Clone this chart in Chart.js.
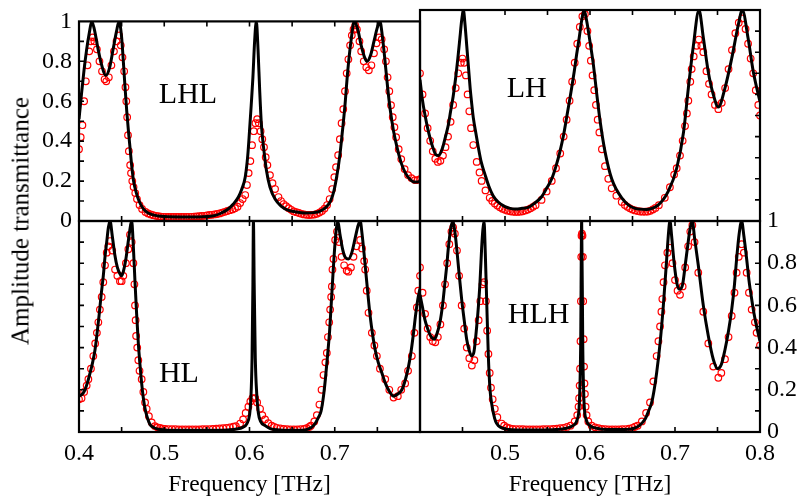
<!DOCTYPE html>
<html><head><meta charset="utf-8">
<script src="https://cdn.jsdelivr.net/npm/chart.js@4.4.0/dist/chart.umd.min.js"></script>
<style>
html,body{margin:0;padding:0;background:#fff;}
#wrap{position:relative;width:798px;height:502px;overflow:hidden;}
canvas{position:absolute;left:0;top:0;}
#ytitle{position:absolute;left:20px;top:221px;transform:translate(-50%,-50%) rotate(-90deg);font-family:'Liberation Serif',serif;font-size:25px;white-space:nowrap;color:#000;line-height:1;}
</style></head><body>
<div id="wrap">
<canvas id="cTL" width="798" height="502"></canvas>
<canvas id="cTR" width="798" height="502"></canvas>
<canvas id="cBL" width="798" height="502"></canvas>
<canvas id="cBR" width="798" height="502"></canvas>
<div id="ytitle">Amplitude transmittance</div>
</div>
<script>
// ---------- DATA (frequency in THz, amplitude transmittance) ----------
// Panel LHL (top-left)
const LHL_fLine = [0.400,0.403,0.406,0.409,0.412,0.415,0.418,0.422,0.426,0.4315,0.436,0.440,0.444,0.447,0.450,0.452,0.454,0.456,0.458,0.460,0.462,0.464,0.467,0.470,0.474,0.478,0.485,0.493,0.500,0.520,0.540,0.550,0.560,0.567,0.575,0.581,0.587,0.591,0.595,0.598,0.600,0.602,0.604,0.606,0.608,0.610,0.612,0.614,0.617,0.620,0.624,0.630,0.637,0.645,0.655,0.665,0.675,0.683,0.690,0.695,0.699,0.703,0.706,0.709,0.712,0.715,0.719,0.723,0.727,0.731,0.735,0.738,0.742,0.746,0.750,0.753,0.756,0.759,0.762,0.765,0.769,0.773,0.778,0.783,0.788,0.793,0.797,0.800];
const LHL_line  = [0.51,0.64,0.76,0.86,0.94,1.00,0.96,0.87,0.79,0.73,0.77,0.86,0.95,1.00,0.92,0.80,0.67,0.55,0.45,0.36,0.27,0.20,0.145,0.105,0.07,0.05,0.033,0.025,0.022,0.02,0.02,0.022,0.028,0.04,0.06,0.085,0.12,0.16,0.22,0.33,0.45,0.58,0.72,0.90,1.00,0.86,0.65,0.48,0.35,0.25,0.17,0.11,0.075,0.055,0.045,0.04,0.042,0.05,0.07,0.10,0.15,0.24,0.33,0.45,0.58,0.74,0.90,1.00,0.96,0.88,0.82,0.80,0.83,0.90,0.97,1.00,0.92,0.80,0.67,0.56,0.45,0.37,0.29,0.24,0.21,0.195,0.195,0.20];
const LHL_fMeas = [0.400,0.402,0.404,0.406,0.408,0.410,0.412,0.414,0.416,0.418,0.421,0.424,0.427,0.430,0.432,0.435,0.438,0.441,0.444,0.447,0.449,0.451,0.453,0.4545,0.4555,0.4565,0.4575,0.4585,0.460,0.461,0.4625,0.464,0.466,0.468,0.471,0.474,0.478,0.481,0.484,0.487,0.490,0.493,0.496,0.499,0.502,0.505,0.508,0.511,0.514,0.517,0.520,0.523,0.526,0.529,0.532,0.535,0.538,0.541,0.544,0.547,0.550,0.553,0.556,0.559,0.562,0.565,0.568,0.571,0.574,0.577,0.580,0.583,0.586,0.589,0.592,0.595,0.597,0.599,0.601,0.603,0.605,0.607,0.609,0.611,0.613,0.615,0.617,0.619,0.621,0.624,0.627,0.630,0.634,0.637,0.640,0.643,0.646,0.649,0.652,0.655,0.658,0.661,0.664,0.667,0.670,0.673,0.676,0.679,0.682,0.685,0.688,0.691,0.694,0.697,0.6995,0.7015,0.704,0.706,0.708,0.710,0.712,0.714,0.716,0.718,0.720,0.722,0.724,0.726,0.729,0.731,0.734,0.737,0.740,0.743,0.746,0.749,0.752,0.755,0.758,0.760,0.762,0.764,0.766,0.768,0.770,0.772,0.775,0.778,0.782,0.786,0.790,0.794,0.797,0.800];
const LHL_meas  = [0.36,0.42,0.48,0.60,0.70,0.78,0.85,0.90,0.92,0.90,0.86,0.80,0.75,0.71,0.70,0.72,0.78,0.85,0.90,0.93,0.88,0.82,0.75,0.67,0.60,0.52,0.43,0.35,0.28,0.24,0.20,0.17,0.14,0.11,0.08,0.06,0.045,0.038,0.033,0.029,0.026,0.024,0.022,0.021,0.02,0.02,0.02,0.02,0.02,0.02,0.02,0.02,0.02,0.021,0.021,0.022,0.023,0.024,0.025,0.026,0.028,0.03,0.031,0.033,0.035,0.038,0.042,0.046,0.05,0.054,0.058,0.064,0.072,0.09,0.11,0.13,0.18,0.24,0.30,0.38,0.45,0.49,0.51,0.49,0.45,0.41,0.37,0.32,0.28,0.23,0.19,0.16,0.12,0.10,0.085,0.074,0.064,0.056,0.048,0.044,0.04,0.036,0.033,0.031,0.03,0.031,0.032,0.036,0.042,0.05,0.062,0.08,0.11,0.16,0.22,0.27,0.33,0.41,0.49,0.56,0.65,0.74,0.81,0.88,0.93,0.96,0.98,0.96,0.90,0.85,0.80,0.77,0.755,0.78,0.84,0.89,0.92,0.91,0.86,0.80,0.72,0.65,0.58,0.52,0.47,0.42,0.36,0.31,0.26,0.23,0.215,0.205,0.205,0.21];

// Panel LH (top-right)
const LH_fLine = [0.400,0.403,0.406,0.409,0.412,0.415,0.4185,0.422,0.425,0.4275,0.430,0.4333,0.436,0.439,0.442,0.445,0.447,0.449,0.451,0.453,0.455,0.457,0.459,0.461,0.4627,0.466,0.4686,0.472,0.4765,0.481,0.486,0.492,0.500,0.506,0.512,0.520,0.5274,0.535,0.5431,0.549,0.555,0.560,0.5647,0.569,0.5725,0.5755,0.5784,0.5815,0.5843,0.587,0.5902,0.593,0.596,0.600,0.604,0.608,0.612,0.6176,0.6255,0.6373,0.653,0.6667,0.6804,0.692,0.702,0.710,0.7157,0.7216,0.7282,0.7333,0.739,0.745,0.751,0.7588,0.7667,0.7745,0.7792,0.786,0.792,0.800];
const LH_line  = [0.67,0.57,0.50,0.44,0.39,0.35,0.315,0.31,0.33,0.36,0.40,0.455,0.52,0.59,0.68,0.79,0.87,0.95,1.00,0.93,0.83,0.73,0.63,0.55,0.49,0.41,0.35,0.28,0.22,0.165,0.12,0.09,0.068,0.06,0.057,0.06,0.065,0.085,0.115,0.155,0.20,0.26,0.33,0.41,0.49,0.56,0.63,0.71,0.79,0.86,0.95,1.00,0.95,0.85,0.74,0.60,0.47,0.33,0.20,0.11,0.06,0.055,0.076,0.14,0.25,0.42,0.63,0.83,1.00,0.87,0.71,0.60,0.54,0.63,0.77,0.93,1.00,0.866,0.71,0.565];
const LH_fMeas = [0.400,0.403,0.406,0.409,0.412,0.415,0.418,0.421,0.424,0.427,0.430,0.433,0.436,0.439,0.442,0.445,0.448,0.450,0.452,0.454,0.456,0.458,0.460,0.4627,0.4667,0.470,0.4725,0.477,0.482,0.485,0.488,0.491,0.494,0.497,0.500,0.503,0.506,0.509,0.512,0.515,0.518,0.521,0.524,0.527,0.530,0.533,0.536,0.543,0.549,0.555,0.560,0.565,0.569,0.5725,0.576,0.579,0.582,0.585,0.588,0.591,0.594,0.597,0.599,0.601,0.603,0.605,0.607,0.609,0.611,0.614,0.6176,0.6215,0.6255,0.631,0.6373,0.641,0.644,0.647,0.650,0.653,0.656,0.659,0.662,0.665,0.668,0.671,0.674,0.677,0.681,0.688,0.694,0.699,0.702,0.7059,0.709,0.7118,0.714,0.7157,0.718,0.7196,0.722,0.7255,0.728,0.731,0.7333,0.737,0.740,0.743,0.747,0.751,0.755,0.759,0.763,0.767,0.771,0.775,0.779,0.783,0.786,0.789,0.792,0.795,0.798,0.800];
const LH_meas  = [0.70,0.60,0.51,0.44,0.38,0.33,0.295,0.28,0.285,0.31,0.35,0.40,0.47,0.55,0.63,0.70,0.75,0.77,0.75,0.69,0.60,0.52,0.44,0.36,0.28,0.23,0.19,0.145,0.11,0.095,0.083,0.073,0.065,0.058,0.053,0.049,0.046,0.044,0.043,0.043,0.044,0.046,0.05,0.054,0.06,0.067,0.075,0.10,0.14,0.19,0.25,0.32,0.40,0.48,0.57,0.66,0.75,0.84,0.92,0.97,0.98,0.90,0.83,0.76,0.69,0.62,0.55,0.48,0.42,0.34,0.26,0.20,0.155,0.12,0.09,0.076,0.067,0.06,0.054,0.05,0.047,0.045,0.044,0.044,0.045,0.048,0.055,0.062,0.075,0.11,0.16,0.22,0.25,0.31,0.38,0.45,0.51,0.57,0.66,0.72,0.78,0.83,0.86,0.83,0.80,0.71,0.65,0.60,0.55,0.53,0.56,0.63,0.72,0.81,0.89,0.94,0.96,0.91,0.84,0.77,0.70,0.62,0.55,0.50];

// Panel HL (bottom-left)
const HL_fLine = [0.400,0.404,0.407,0.410,0.413,0.416,0.4188,0.421,0.4235,0.426,0.4285,0.4305,0.4325,0.4345,0.4364,0.439,0.442,0.445,0.448,0.450,0.452,0.455,0.458,0.4605,0.4618,0.4635,0.4657,0.4676,0.4696,0.4715,0.4735,0.4755,0.4775,0.480,0.4833,0.487,0.493,0.500,0.520,0.540,0.560,0.575,0.585,0.592,0.597,0.600,0.6015,0.603,0.604,0.6046,0.6055,0.6068,0.6085,0.6104,0.613,0.6183,0.625,0.635,0.650,0.665,0.672,0.677,0.681,0.684,0.6868,0.689,0.6915,0.694,0.6965,0.699,0.7015,0.7036,0.706,0.709,0.712,0.716,0.720,0.724,0.7275,0.7298,0.732,0.7357,0.7385,0.7415,0.7445,0.7474,0.751,0.7553,0.759,0.763,0.769,0.774,0.7787,0.783,0.7865,0.7895,0.7924,0.795,0.7975,0.800];
const HL_line  = [0.17,0.18,0.20,0.235,0.28,0.33,0.39,0.46,0.55,0.65,0.74,0.83,0.90,0.97,1.00,0.93,0.84,0.78,0.75,0.74,0.76,0.82,0.91,0.98,1.00,0.90,0.71,0.56,0.42,0.32,0.23,0.16,0.11,0.07,0.036,0.022,0.013,0.01,0.008,0.008,0.008,0.01,0.014,0.022,0.04,0.08,0.15,0.35,0.70,1.00,0.70,0.35,0.18,0.09,0.05,0.03,0.015,0.01,0.008,0.01,0.02,0.04,0.07,0.10,0.17,0.25,0.36,0.48,0.65,0.82,0.95,1.00,0.94,0.87,0.83,0.82,0.85,0.92,0.98,1.00,0.94,0.79,0.67,0.55,0.46,0.39,0.33,0.28,0.235,0.20,0.17,0.18,0.20,0.25,0.31,0.38,0.47,0.56,0.63,0.68];
const HL_fMeas = [0.400,0.403,0.406,0.409,0.411,0.414,0.4168,0.419,0.421,0.4227,0.4245,0.4266,0.4285,0.4305,0.4325,0.4344,0.4364,0.439,0.4423,0.445,0.448,0.450,0.452,0.455,0.4579,0.4598,0.4618,0.4638,0.4650,0.4657,0.4664,0.467,0.4683,0.4696,0.471,0.4735,0.4755,0.4775,0.4794,0.482,0.4853,0.489,0.492,0.495,0.498,0.501,0.505,0.509,0.513,0.517,0.521,0.525,0.529,0.533,0.537,0.541,0.545,0.549,0.553,0.557,0.561,0.565,0.569,0.573,0.577,0.581,0.584,0.589,0.5925,0.5955,0.5987,0.601,0.6035,0.6066,0.609,0.6124,0.615,0.6183,0.622,0.626,0.629,0.632,0.636,0.640,0.644,0.648,0.652,0.656,0.660,0.664,0.667,0.670,0.672,0.676,0.679,0.682,0.6845,0.6868,0.689,0.6907,0.692,0.6935,0.6946,0.6958,0.6966,0.6973,0.6985,0.7005,0.7026,0.705,0.708,0.711,0.714,0.716,0.719,0.722,0.7255,0.7298,0.732,0.7345,0.7357,0.7375,0.7396,0.7435,0.7465,0.7494,0.753,0.7592,0.764,0.769,0.774,0.778,0.7826,0.786,0.7904,0.7935,0.7963,0.798,0.800];
const HL_meas  = [0.155,0.16,0.19,0.22,0.25,0.30,0.36,0.42,0.47,0.52,0.58,0.64,0.71,0.79,0.85,0.88,0.905,0.86,0.77,0.74,0.715,0.715,0.74,0.80,0.866,0.935,0.90,0.80,0.70,0.60,0.53,0.455,0.40,0.34,0.29,0.25,0.19,0.14,0.11,0.075,0.045,0.028,0.022,0.019,0.016,0.015,0.014,0.013,0.013,0.012,0.012,0.012,0.012,0.012,0.012,0.012,0.013,0.013,0.014,0.015,0.016,0.017,0.018,0.02,0.022,0.025,0.028,0.04,0.06,0.09,0.12,0.145,0.16,0.16,0.14,0.11,0.08,0.06,0.042,0.03,0.024,0.02,0.017,0.015,0.013,0.012,0.012,0.012,0.013,0.015,0.018,0.024,0.03,0.05,0.08,0.13,0.20,0.27,0.33,0.375,0.45,0.52,0.58,0.64,0.69,0.77,0.82,0.91,0.95,0.90,0.83,0.79,0.765,0.76,0.78,0.83,0.88,0.91,0.87,0.81,0.77,0.67,0.565,0.47,0.41,0.36,0.30,0.25,0.20,0.163,0.17,0.20,0.23,0.29,0.36,0.47,0.59,0.67,0.74];

// Panel HLH (bottom-right)
const HLH_fLine = [0.400,0.403,0.4059,0.409,0.4118,0.4145,0.417,0.4195,0.4235,0.4265,0.4294,0.4315,0.4333,0.436,0.4384,0.441,0.4432,0.446,0.449,0.452,0.4549,0.458,0.4608,0.4635,0.4667,0.4688,0.4706,0.4725,0.474,0.4753,0.4768,0.4784,0.4804,0.4824,0.4845,0.4863,0.489,0.4922,0.497,0.505,0.520,0.540,0.560,0.572,0.580,0.585,0.5875,0.589,0.5902,0.5915,0.593,0.5955,0.600,0.608,0.620,0.640,0.652,0.658,0.6647,0.669,0.6726,0.6755,0.6784,0.6824,0.6863,0.6902,0.6925,0.6941,0.696,0.699,0.7025,0.7059,0.709,0.712,0.7155,0.718,0.7204,0.723,0.7274,0.7333,0.7392,0.745,0.7502,0.7545,0.7588,0.763,0.7667,0.770,0.7725,0.7755,0.7784,0.781,0.7843,0.787,0.7902,0.793,0.796,0.800];
const HLH_line  = [0.65,0.59,0.53,0.49,0.46,0.445,0.44,0.46,0.52,0.60,0.71,0.79,0.87,0.96,1.00,0.95,0.87,0.75,0.63,0.53,0.44,0.385,0.36,0.38,0.50,0.60,0.71,0.87,0.96,1.00,0.85,0.63,0.36,0.20,0.13,0.09,0.05,0.03,0.018,0.012,0.01,0.01,0.012,0.018,0.03,0.06,0.14,0.40,1.00,0.40,0.14,0.06,0.03,0.018,0.012,0.012,0.018,0.03,0.06,0.10,0.14,0.20,0.28,0.42,0.60,0.82,0.95,1.00,0.93,0.80,0.70,0.676,0.70,0.79,0.90,0.97,1.00,0.92,0.79,0.60,0.455,0.345,0.30,0.32,0.39,0.48,0.58,0.70,0.82,0.94,1.00,0.93,0.82,0.72,0.63,0.56,0.50,0.43];
const HLH_fMeas = [0.400,0.403,0.406,0.409,0.412,0.415,0.418,0.421,0.424,0.427,0.4295,0.432,0.4345,0.437,0.439,0.441,0.4435,0.446,0.449,0.452,0.455,0.458,0.461,0.464,0.4667,0.469,0.471,0.4735,0.4755,0.4775,0.479,0.4805,0.482,0.4835,0.4855,0.488,0.491,0.496,0.499,0.502,0.505,0.509,0.513,0.517,0.521,0.525,0.529,0.533,0.537,0.541,0.545,0.549,0.553,0.557,0.561,0.565,0.569,0.573,0.577,0.582,0.585,0.5865,0.5872,0.5878,0.5883,0.5888,0.5893,0.5897,0.5900,0.5905,0.5912,0.5916,0.5920,0.5925,0.5930,0.5935,0.5940,0.5948,0.596,0.598,0.602,0.606,0.610,0.614,0.618,0.622,0.626,0.630,0.634,0.638,0.642,0.646,0.650,0.653,0.656,0.661,0.666,0.6706,0.6745,0.6784,0.6805,0.6824,0.684,0.6851,0.6865,0.6882,0.691,0.6941,0.697,0.700,0.703,0.7059,0.709,0.712,0.7155,0.718,0.7204,0.723,0.7274,0.7333,0.7392,0.745,0.751,0.7545,0.7588,0.763,0.7667,0.770,0.7725,0.775,0.7784,0.781,0.7843,0.787,0.7902,0.794,0.796,0.800];
const HLH_meas  = [0.78,0.66,0.56,0.49,0.45,0.43,0.425,0.45,0.51,0.60,0.70,0.80,0.89,0.95,0.97,0.94,0.86,0.74,0.60,0.49,0.40,0.35,0.315,0.34,0.43,0.53,0.62,0.70,0.71,0.62,0.48,0.37,0.28,0.21,0.155,0.11,0.07,0.04,0.03,0.022,0.018,0.015,0.014,0.013,0.013,0.012,0.012,0.012,0.012,0.012,0.013,0.013,0.014,0.015,0.016,0.018,0.02,0.024,0.03,0.05,0.08,0.12,0.16,0.22,0.30,0.43,0.62,0.83,0.93,0.94,0.93,0.83,0.62,0.44,0.31,0.23,0.18,0.12,0.08,0.05,0.03,0.022,0.018,0.015,0.013,0.012,0.012,0.012,0.012,0.013,0.014,0.016,0.02,0.025,0.03,0.05,0.09,0.14,0.24,0.36,0.43,0.50,0.57,0.63,0.71,0.79,0.85,0.873,0.80,0.72,0.67,0.65,0.69,0.78,0.88,0.95,0.98,0.90,0.755,0.57,0.42,0.31,0.257,0.28,0.345,0.45,0.55,0.66,0.755,0.83,0.89,0.85,0.755,0.66,0.58,0.52,0.47,0.41];

// Tick labels
const xTickLabelsLeft  = ['0.4','0.5','0.6','0.7'];
const xTickLabelsRight = ['0.5','0.6','0.7','0.8'];
const yTickLabels = ['0','0.2','0.4','0.6','0.8','1'];
const panelNames = ['LHL','LH','HL','HLH'];
const xTitle = 'Frequency [THz]';

// ---------- RENDERING ----------
const FONT = "'Liberation Serif', 'Times New Roman', serif";
const pts = (fs, vs) => fs.map((f, i) => ({x: f, y: vs[i]}));

const framePlugin = {
  id: 'frameTicks',
  afterDatasetsDraw(chart, args, opts) {
    const {ctx, chartArea: a, scales} = chart;
    const xs = scales.x, ys = scales.y;
    ctx.save();
    ctx.strokeStyle = '#000';
    ctx.lineWidth = 1.6;
    const L = 5;
    ctx.beginPath();
    for (let k = 1; k < 8; k++) {
      const px = xs.getPixelForValue(0.4 + k * 0.05);
      ctx.moveTo(px, a.top); ctx.lineTo(px, a.top + L);
      ctx.moveTo(px, a.bottom); ctx.lineTo(px, a.bottom - L);
    }
    for (let k = 1; k < 10; k++) {
      const py = ys.getPixelForValue(k * 0.1);
      if (opts.side === 'left') { ctx.moveTo(a.left, py); ctx.lineTo(a.left + L, py); }
      else { ctx.moveTo(a.right, py); ctx.lineTo(a.right - L, py); }
    }
    ctx.stroke();
    ctx.lineWidth = 2.2;
    ctx.strokeRect(a.left, a.top, a.right - a.left, a.bottom - a.top);
    // panel label
    ctx.fillStyle = '#000';
    ctx.font = '30px ' + FONT;
    ctx.textAlign = 'center';
    ctx.textBaseline = 'alphabetic';
    ctx.fillText(opts.label, a.left + opts.fx * (a.right - a.left), a.top + opts.fy * (a.bottom - a.top));
    ctx.restore();
  }
};

function makeChart(id, cfg) {
  const xFmt = (v) => {
    const s = Number(v).toFixed(1);
    return cfg.xLabels && cfg.xLabels.includes(s) ? s : '';
  };
  const yFmt = (v) => {
    const r = Math.round(v * 10) / 10;
    const s = r === 0 ? '0' : r === 1 ? '1' : r.toFixed(1);
    return yTickLabels.includes(s) ? s : '';
  };
  return new Chart(document.getElementById(id), {
    type: 'scatter',
    data: {
      datasets: [
        {
          label: 'theory', data: pts(cfg.fLine, cfg.line), showLine: true,
          borderColor: '#000', borderWidth: 3, pointRadius: 0,
          cubicInterpolationMode: 'monotone', order: 0
        },
        {
          label: 'measured', data: pts(cfg.fMeas, cfg.meas), showLine: false,
          pointStyle: 'circle', pointRadius: 3.3, pointBorderWidth: 1.2,
          pointBorderColor: '#ff0000', pointBackgroundColor: 'rgba(0,0,0,0)',
          borderColor: '#ff0000', backgroundColor: 'rgba(0,0,0,0)', order: 1
        }
      ]
    },
    options: {
      responsive: false, animation: false, devicePixelRatio: 1,
      layout: {padding: cfg.padding},
      plugins: {
        legend: {display: false}, tooltip: {enabled: false},
        frameTicks: {side: cfg.ySide, label: cfg.label, fx: cfg.fx, fy: cfg.fy}
      },
      scales: {
        x: {
          type: 'linear', min: 0.4, max: 0.8, position: 'bottom',
          display: !!cfg.xShow,
          grid: {display: false, drawTicks: false}, border: {display: false},
          ticks: {stepSize: 0.1, callback: xFmt, padding: 7, color: '#000', maxRotation: 0, autoSkip: false,
                  font: {family: FONT, size: 24}},
          title: {display: !!cfg.xShow, text: xTitle, color: '#000', font: {family: FONT, size: 23.5}, padding: {top: 0, bottom: 3}},
          afterFit: (s) => { s.height = cfg.xShow ? 70 : 0; }
        },
        y: {
          type: 'linear', min: 0, max: 1, position: cfg.ySide,
          display: !!cfg.yShow,
          grid: {display: false, drawTicks: false}, border: {display: false},
          ticks: {stepSize: 0.2, callback: yFmt, padding: 7, color: '#000', autoSkip: false,
                  font: {family: FONT, size: 24}},
          afterFit: (s) => { s.width = cfg.yShow ? (cfg.ySide === 'left' ? 79 : 38) : 0; }
        }
      }
    },
    plugins: [framePlugin]
  });
}

makeChart('cTL', {fLine: LHL_fLine, line: LHL_line, fMeas: LHL_fMeas, meas: LHL_meas,
  padding: {left: 0, right: 378, top: 10, bottom: 281}, ySide: 'left', yShow: true, xShow: false,
  label: panelNames[0], fx: 0.3196, fy: 0.411});
makeChart('cTR', {fLine: LH_fLine, line: LH_line, fMeas: LH_fMeas, meas: LH_meas,
  padding: {left: 420, right: 38, top: 10, bottom: 281}, ySide: 'right', yShow: false, xShow: false,
  label: panelNames[1], fx: 0.314, fy: 0.411});
makeChart('cBL', {fLine: HL_fLine, line: HL_line, fMeas: HL_fMeas, meas: HL_meas,
  padding: {left: 79, right: 378, top: 221, bottom: 0}, ySide: 'left', yShow: false, xShow: true,
  xLabels: xTickLabelsLeft, label: panelNames[2], fx: 0.293, fy: 0.762});
makeChart('cBR', {fLine: HLH_fLine, line: HLH_line, fMeas: HLH_fMeas, meas: HLH_meas,
  padding: {left: 420, right: 0, top: 221, bottom: 0}, ySide: 'right', yShow: true, xShow: true,
  xLabels: xTickLabelsRight, label: panelNames[3], fx: 0.349, fy: 0.483});
</script>
</body></html>
